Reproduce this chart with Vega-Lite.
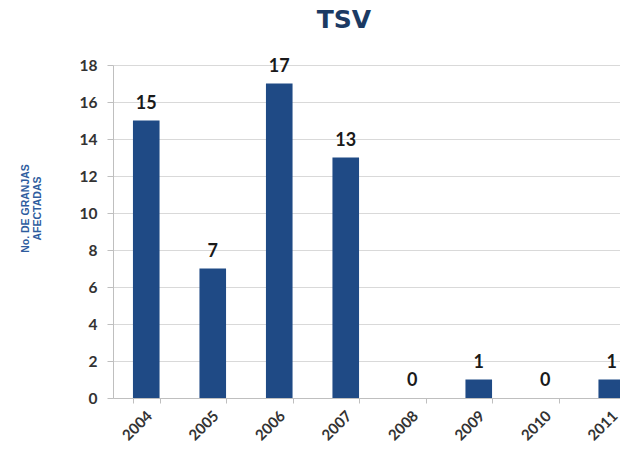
{
  "$schema": "https://vega.github.io/schema/vega-lite/v6.json",
  "width": 532,
  "height": 333,
  "autosize": {"type": "none"},
  "padding": {"left": 113, "top": 65, "right": 0, "bottom": 61},
  "background": "white",
  "title": {
    "text": "TSV",
    "font": "DejaVu Sans",
    "fontSize": 25,
    "fontWeight": "bold",
    "color": "#1B3A63",
    "anchor": "middle",
    "dx": -35,
    "offset": 25
  },
  "data": {
    "values": [
      {"year": "2004", "value": 15},
      {"year": "2005", "value": 7},
      {"year": "2006", "value": 17},
      {"year": "2007", "value": 13},
      {"year": "2008", "value": 0},
      {"year": "2009", "value": 1},
      {"year": "2010", "value": 0},
      {"year": "2011", "value": 1}
    ]
  },
  "config": {
    "view": {"stroke": null},
    "axis": {
      "labelFont": "Lato",
      "labelFontWeight": "bold",
      "labelColor": "#333333",
      "domainColor": "#BFBFBF",
      "tickColor": "#BFBFBF",
      "gridColor": "#D9D9D9"
    }
  },
  "encoding": {
    "x": {
      "field": "year",
      "type": "nominal",
      "scale": {"paddingInner": 0.6, "paddingOuter": 0.3},
      "axis": {
        "title": null,
        "labelAngle": -45,
        "labelFontSize": 15,
        "labelPadding": 5,
        "labelOffset": -2,
        "tickBand": "extent",
        "tickSize": 5,
        "grid": false
      }
    },
    "y": {
      "field": "value",
      "type": "quantitative",
      "scale": {"domain": [0, 18], "nice": false},
      "axis": {
        "values": [0, 2, 4, 6, 8, 10, 12, 14, 16, 18],
        "labelFontSize": 15.5,
        "tickSize": 6,
        "labelPadding": 10,
        "grid": true,
        "title": ["No. DE GRANJAS", "AFECTADAS"],
        "titleFont": "Liberation Sans",
        "titleFontSize": 10.5,
        "titleFontWeight": "bold",
        "titleColor": "#2E5C9E",
        "titleAngle": -90,
        "titleX": -88,
        "titleY": 143,
        "titleAlign": "center",
        "titleBaseline": "middle",
        "titleLineHeight": 12
      }
    }
  },
  "layer": [
    {"mark": {"type": "bar", "color": "#1F4A85"}},
    {
      "mark": {
        "type": "text",
        "baseline": "bottom",
        "dy": -8,
        "font": "Lato",
        "fontWeight": "bold",
        "fontSize": 18,
        "color": "#1A1A1A"
      },
      "encoding": {"text": {"field": "value", "type": "quantitative"}}
    }
  ]
}
